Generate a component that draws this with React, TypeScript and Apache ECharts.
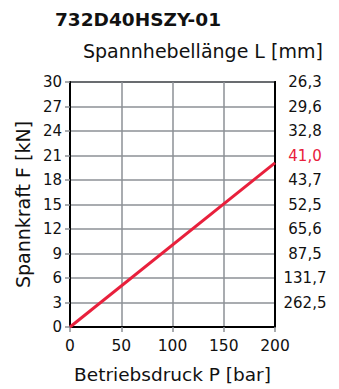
import React, { useEffect, useRef } from "react";
import * as echarts from "echarts";

const title = "732D40HSZY-01";
const xName = "Betriebsdruck P [bar]";
const yName = "Spannkraft F [kN]";
const rightName = "Spannhebellänge L [mm]";
const xTicks = [0, 50, 100, 150, 200];
const forceTicks = [0, 3, 6, 9, 12, 15, 18, 21, 24, 27, 30];
const leverLabels = ["", "262,5", "131,7", "87,5", "65,6", "52,5", "43,7", "41,0", "32,8", "29,6", "26,3"];
const highlightLabel = "41,0";
const pressure = [0, 200];
const force = [0, 20.1];

export default function App() {
  const ref = useRef<HTMLDivElement>(null);
  useEffect(() => {
    const chart = echarts.init(ref.current!, undefined, { renderer: "svg" });
    const font = "'DejaVu Sans', sans-serif";
    const grid = "#8c9096";
    chart.setOption({
      animation: false,
      backgroundColor: "#fff",
      title: {
        text: title,
        left: 50,
        top: 5,
        textStyle: { fontFamily: font, fontWeight: "bold", fontSize: 18.5, color: "#111" },
      },
      graphic: [
        {
          type: "text",
          left: 83,
          top: 41,
          style: { text: rightName, fontFamily: font, fontSize: 19, fill: "#111" },
        },
      ],
      grid: {
        left: 70,
        right: 64,
        top: 82,
        bottom: 57,
        show: true,
        borderColor: "#000",
        borderWidth: 2,
        backgroundColor: "transparent",
      },
      xAxis: {
        type: "value",
        min: xTicks[0],
        max: xTicks[xTicks.length - 1],
        interval: 50,
        name: xName,
        nameLocation: "middle",
        nameGap: 38,
        nameTextStyle: { fontFamily: font, fontSize: 18.5, color: "#111" },
        axisLine: { show: true, lineStyle: { color: "#000", width: 2 } },
        axisTick: { show: true, length: 5, lineStyle: { color: grid, width: 1.5 } },
        axisLabel: { fontFamily: font, fontSize: 15.5, color: "#111", margin: 11 },
        splitLine: { show: true, lineStyle: { color: grid, width: 1.5 } },
      },
      yAxis: [
        {
          type: "value",
          min: 0,
          max: 30,
          interval: 3,
          name: yName,
          nameLocation: "middle",
          nameGap: 33,
          nameTextStyle: { fontFamily: font, fontSize: 19, color: "#111" },
          axisLine: { show: true, lineStyle: { color: "#000", width: 2 } },
          axisTick: { show: true, length: 5, lineStyle: { color: grid, width: 1.5 } },
          axisLabel: { fontFamily: font, fontSize: 15, color: "#111", margin: 8 },
          splitLine: { show: true, lineStyle: { color: grid, width: 1.5 } },
        },
        {
          type: "value",
          position: "right",
          min: 0,
          max: 30,
          interval: 3,
          axisLine: { show: true, lineStyle: { color: "#000", width: 2 } },
          axisTick: { show: false },
          splitLine: { show: false },
          axisLabel: {
            fontFamily: font,
            fontSize: 15,
            color: "#111",
            align: "center",
            margin: 30,
            formatter: (v: number) => {
              const i = forceTicks.indexOf(Math.round(v));
              const s = i >= 0 ? leverLabels[i] : "";
              return s === highlightLabel ? "{red|" + s + "}" : s;
            },
            rich: { red: { color: "#e8203c", fontFamily: font, fontSize: 15 } },
          },
        },
      ],
      series: [
        {
          type: "line",
          data: pressure.map((p, i) => [p, force[i]]),
          showSymbol: false,
          lineStyle: { color: "#e8203c", width: 3 },
          z: 5,
        },
      ],
    });
    return () => chart.dispose();
  }, []);
  return <div ref={ref} style={{ width: 339, height: 389, position: "absolute", left: 0, top: 0 }} />;
}
